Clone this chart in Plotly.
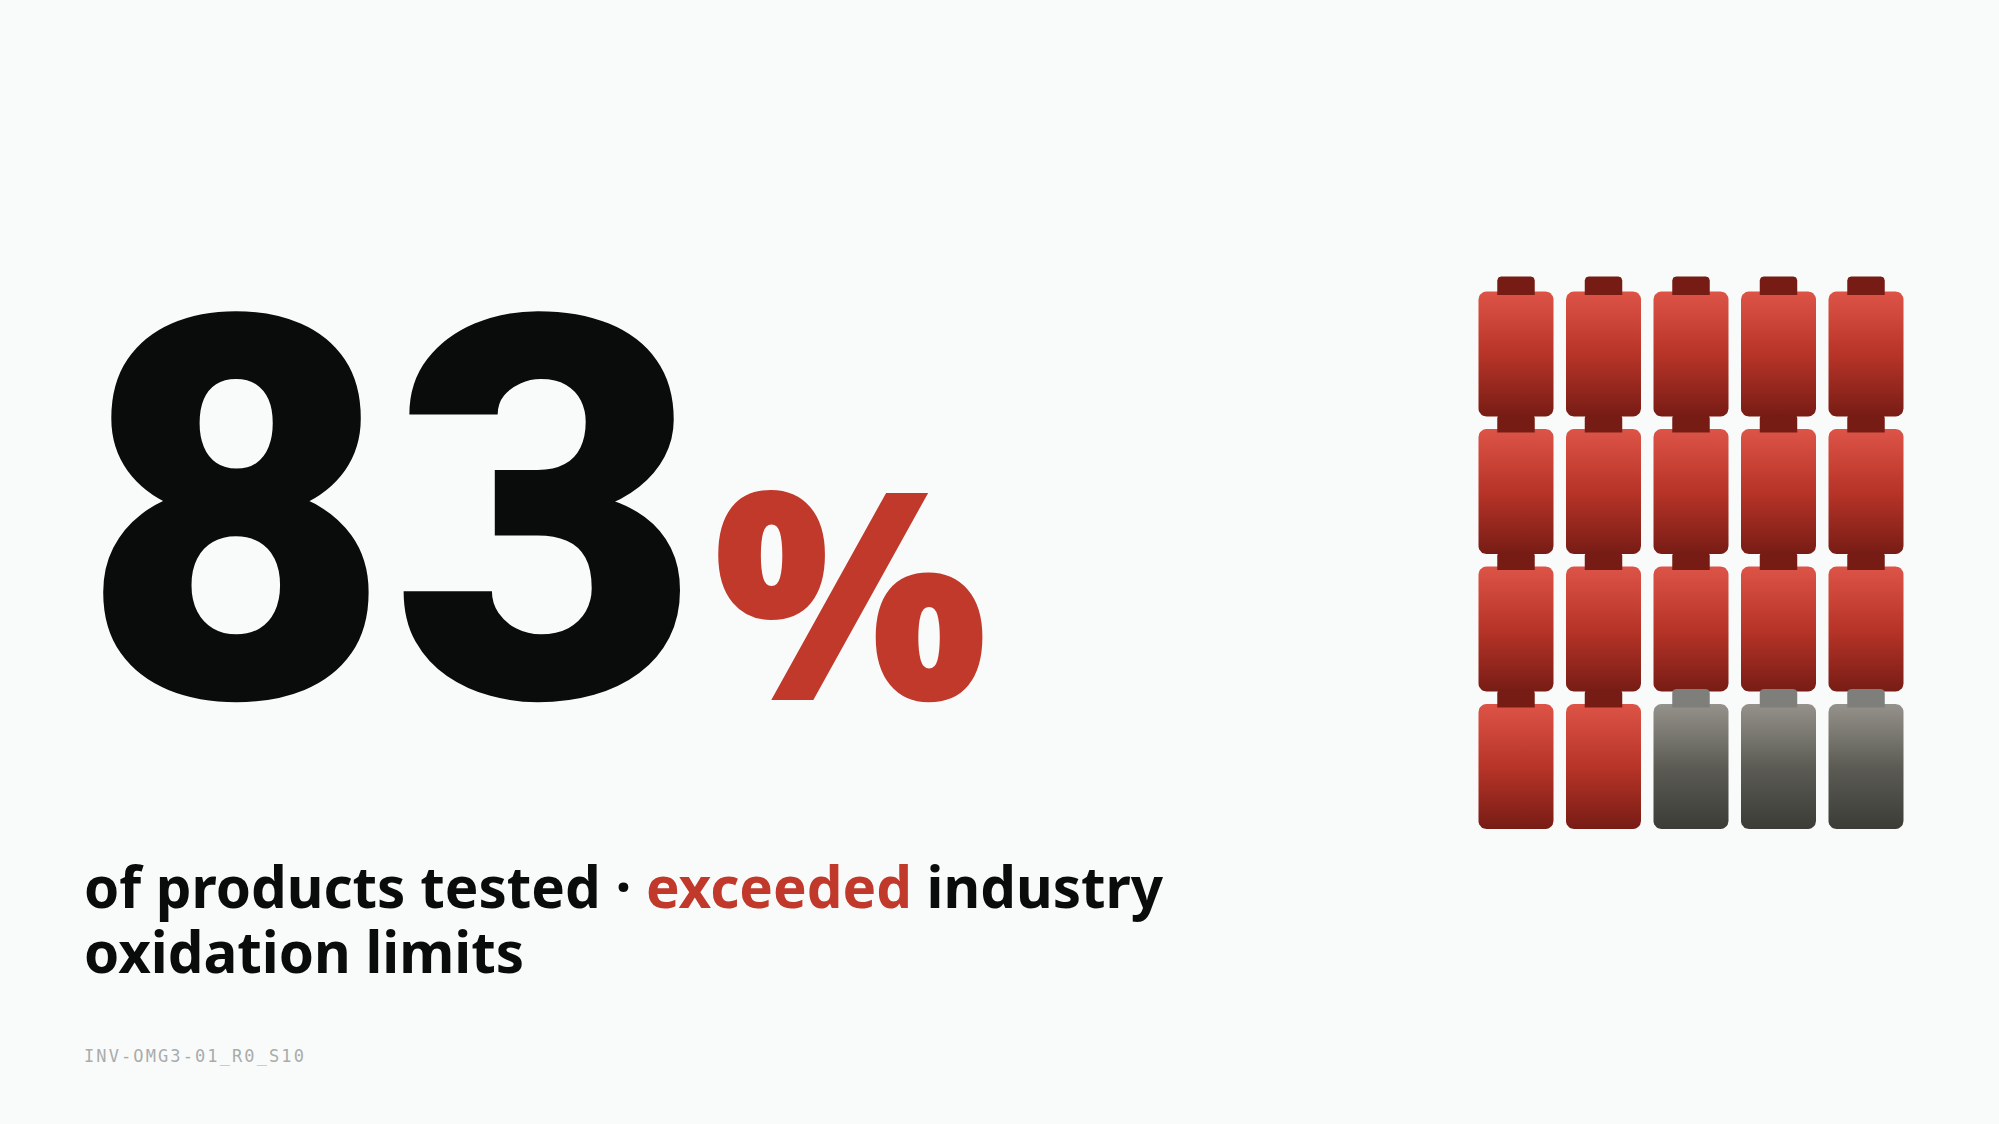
import numpy as np
import plotly.graph_objects as go

W, H = 1999, 1124

# values
headline_value = "83"
headline_unit = "%"
caption_before = "of products tested · "
caption_hot = "exceeded"
caption_after = " industry"
caption_line2 = "oxidation limits"
footer_code = "INV-OMG3-01_R0_S10"

# one entry per bottle row, 1 = over limit, 0 = within limit
row_1 = [1, 1, 1, 1, 1]
row_2 = [1, 1, 1, 1, 1]
row_3 = [1, 1, 1, 1, 1]
row_4 = [1, 1, 0, 0, 0]
bottle_rows = [row_1, row_2, row_3, row_4]

BG = "#f9fbfa"
INK = "#0a0c0b"
RED = "#c0392b"
FOOT = "#a9acab"

RED_SCALE = [[0, "#dd5447"], [0.5, "#b83428"], [1, "#771c15"]]
RED_CAP = "#771c15"
GREY_SCALE = [[0, "#95928b"], [0.5, "#5c5c55"], [1, "#3c3c36"]]
GREY_CAP = "#7e7f7b"

# bottle grid, pixel size of one grid step
PITCH_X, PITCH_Y = 87.5, 137.5
COL0_X, ROW0_Y = 1516.0, 354.0
BODY_W, BODY_H, BODY_R = 75 / PITCH_X, 125 / PITCH_Y, 8
CAP_W, CAP_H, CAP_R = 37.5 / PITCH_X, 18.5 / PITCH_Y, 4


def rounded(cx, top, w, h, r_px, bottom_round=True):
    rx, ry = r_px / PITCH_X, r_px / PITCH_Y
    t = np.linspace(0, np.pi / 2, 8)
    left, right, bot = cx - w / 2, cx + w / 2, top + h
    xs = [left + rx - rx * np.cos(t), right - rx + rx * np.sin(t)]
    ys = [top + ry - ry * np.sin(t), top + ry - ry * np.cos(t)]
    if bottom_round:
        xs += [right - rx + rx * np.cos(t), left + rx - rx * np.sin(t)]
        ys += [bot - ry + ry * np.sin(t), bot - ry + ry * np.cos(t)]
    else:
        xs += [[right, left]]
        ys += [[bot, bot]]
    x = np.concatenate(xs)
    y = np.concatenate(ys)
    return np.append(x, x[0]), np.append(y, y[0])


fig = go.Figure()

for r, row in enumerate(bottle_rows):
    for c, hot in enumerate(row):
        scale = RED_SCALE if hot else GREY_SCALE
        top = r - BODY_H / 2
        bx, by = rounded(c, top, BODY_W, BODY_H, BODY_R)
        fig.add_trace(go.Scatter(
            x=bx, y=by, mode="lines", line=dict(width=0), fill="toself",
            fillgradient=dict(type="vertical", colorscale=scale, start=top, stop=top + BODY_H),
            hoverinfo="skip", showlegend=False,
        ))
        cap_top = top - 15 / PITCH_Y
        cx, cy = rounded(c, cap_top, CAP_W, CAP_H, CAP_R, bottom_round=False)
        fig.add_trace(go.Scatter(
            x=cx, y=cy, mode="lines", line=dict(width=0), fill="toself",
            fillcolor=RED_CAP if hot else GREY_CAP,
            hoverinfo="skip", showlegend=False,
        ))


def text(px, py, s, size, color, family, weight=400):
    fig.add_annotation(
        xref="paper", yref="paper", x=px / W, y=1 - py / H,
        xanchor="left", yanchor="middle", showarrow=False, align="left",
        text=s, font=dict(size=size, color=color, family=family, weight=weight),
    )


SANS = "Noto Sans"
text(78.5, 514.5, headline_value, 535, INK, "Roboto", 900)
text(711, 587, headline_unit, 290, RED, SANS, 900)
text(81.5, 886, caption_before + f'<span style="color:{RED}">{caption_hot}</span>' + caption_after, 56.5, INK, SANS, 700)
text(81.5, 951, caption_line2, 56.5, INK, SANS, 700)
text(81.5, 1056, footer_code, 17, FOOT, "DejaVu Sans Mono", 400)

fig.update_xaxes(visible=False, range=[-COL0_X / PITCH_X, (W - COL0_X) / PITCH_X], fixedrange=True)
fig.update_yaxes(visible=False, range=[(H - ROW0_Y) / PITCH_Y, -ROW0_Y / PITCH_Y], fixedrange=True)
fig.update_layout(
    width=W, height=H, margin=dict(l=0, r=0, t=0, b=0),
    paper_bgcolor=BG, plot_bgcolor=BG, hovermode=False, showlegend=False,
)

# footer code is letter-spaced in the reference, plotly has no font option for it
post = """
document.body.style.margin='0';document.body.style.background='%s';
document.querySelectorAll('.annotation-text').forEach(function(t){
  if (t.textContent === '%s') t.style.letterSpacing = '2.1px';
});
""" % (BG, footer_code)
fig.write_html("out.html", config=dict(displayModeBar=False), post_script=post)
